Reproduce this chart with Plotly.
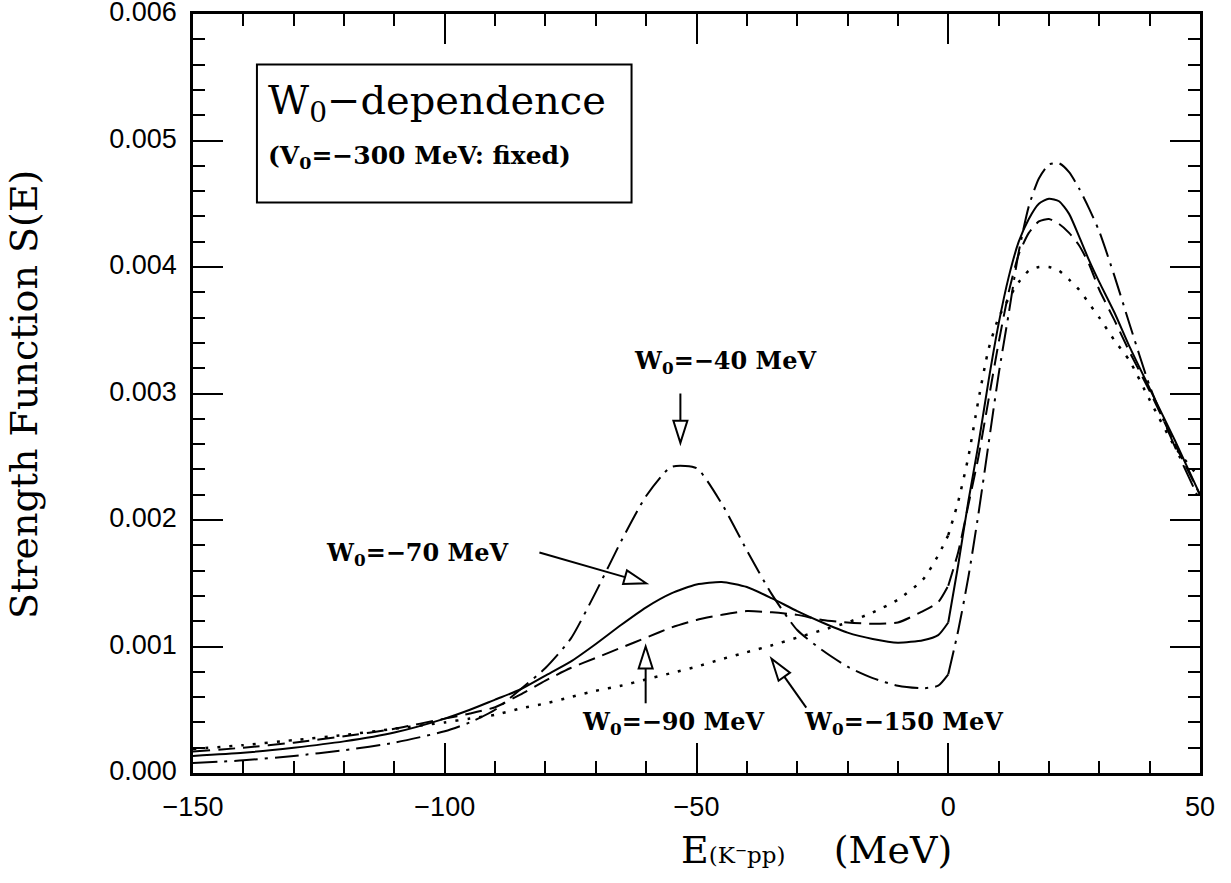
import plotly.graph_objects as go
import numpy as np

# ---- data (S(E) in units of 1e-3) ----
E = [-150, -140, -130, -120, -110, -100, -95, -90, -85, -80, -75, -70, -65, -60, -55,
     -50, -45, -40, -35, -30, -25, -20, -15, -10, -5, -2, 0,
     2, 4, 6, 8, 10, 12, 14, 16, 18, 20, 22, 24, 26, 28, 30, 33, 36, 40, 45, 50]

S_w40 = [0.08, 0.10, 0.135, 0.18, 0.24, 0.33, 0.40, 0.50, 0.66, 0.83, 1.06, 1.43, 1.83, 2.19, 2.42,
         2.41, 2.13, 1.76, 1.41, 1.13, 0.97, 0.84, 0.75, 0.69, 0.67, 0.69, 0.78,
         1.13, 1.55, 2.05, 2.6, 3.15, 3.63, 4.12, 4.48, 4.70, 4.81, 4.82, 4.75, 4.62, 4.46, 4.28, 3.93, 3.55, 3.06, 2.58, 2.15]

S_w70 = [0.135, 0.16, 0.20, 0.25, 0.32, 0.43, 0.50, 0.58, 0.66, 0.77, 0.88, 1.02, 1.17, 1.31, 1.42,
         1.49, 1.51, 1.47, 1.38, 1.28, 1.19, 1.11, 1.06, 1.03, 1.05, 1.09, 1.19,
         1.65, 2.15, 2.6, 3.1, 3.55, 3.92, 4.2, 4.38, 4.5, 4.54, 4.52, 4.42, 4.24, 4.05, 3.88, 3.64, 3.37, 3.04, 2.63, 2.2]

S_w90 = [0.17, 0.20, 0.24, 0.29, 0.35, 0.43, 0.47, 0.52, 0.62, 0.73, 0.83, 0.91, 0.99, 1.07, 1.15,
         1.21, 1.25, 1.28, 1.27, 1.25, 1.21, 1.19, 1.18, 1.19, 1.28, 1.35, 1.48,
         1.75, 2.12, 2.5, 2.95, 3.4, 3.8, 4.1, 4.27, 4.36, 4.38, 4.34, 4.27, 4.17, 4.02, 3.82, 3.58, 3.33, 3.02, 2.6, 2.2]

S_w150 = [0.19, 0.22, 0.26, 0.30, 0.35, 0.40, 0.43, 0.46, 0.51, 0.55, 0.60, 0.65, 0.69, 0.74, 0.79,
          0.84, 0.90, 0.955, 1.01, 1.07, 1.13, 1.19, 1.27, 1.37, 1.53, 1.72, 1.88,
          2.15, 2.5, 2.95, 3.35, 3.6, 3.75, 3.88, 3.97, 4.0, 4.0, 3.97, 3.9, 3.82, 3.71, 3.6, 3.42, 3.26, 2.95, 2.58, 2.33]

series = [
    (S_w40, "24px,7px,3px,7px", 2),
    (S_w70, "solid", 2),
    (S_w90, "17px,8px", 2),
    (S_w150, "3px,9px", 2.5),
]

fig = go.Figure()
i0 = E.index(0)
for vals, dash, lw in series:
    y = [v * 1e-3 for v in vals]
    for xs, ys in [(E[:i0 + 1], y[:i0 + 1]), (E[i0:], y[i0:])]:
        fig.add_trace(go.Scatter(x=xs, y=ys, mode="lines",
                                 line=dict(color="black", width=lw, dash=dash,
                                           shape="spline", smoothing=0.6),
                                 showlegend=False, hoverinfo="skip"))

XR = [-150, 50]
YR = [0, 0.006]
L, R, T, B = 193, 31, 14, 110
W, H = 1231, 883
sx = (W - L - R) / (XR[1] - XR[0])
sy = (H - T - B) / (YR[1] - YR[0])

shapes = []


def arrow(tail, tip, head=22, half=7):
    tx, ty = tail[0] * sx, tail[1] * sy
    px, py = tip[0] * sx, tip[1] * sy
    d = np.array([px - tx, py - ty])
    d = d / np.linalg.norm(d)
    n = np.array([-d[1], d[0]])
    base = np.array([px, py]) - d * head
    c1 = base + n * half
    c2 = base - n * half
    shapes.append(dict(type="line", xref="x", yref="y",
                       x0=tail[0], y0=tail[1], x1=base[0] / sx, y1=base[1] / sy,
                       line=dict(color="black", width=2)))
    path = "M {},{} L {},{} L {},{} Z".format(
        px / sx, py / sy, c1[0] / sx, c1[1] / sy, c2[0] / sx, c2[1] / sy)
    shapes.append(dict(type="path", xref="x", yref="y", path=path,
                       fillcolor="white", line=dict(color="black", width=2)))


arrow((-53.2, 3.0e-3), (-53.2, 2.61e-3))
arrow((-81.2, 1.743e-3), (-60.0, 1.50e-3))
arrow((-60.1, 0.551e-3), (-60.1, 1.0e-3))
arrow((-28.2, 0.517e-3), (-35.1, 0.903e-3))

# legend box
shapes.append(dict(type="rect", xref="x", yref="y", x0=-137.3, x1=-62.9,
                   y0=4.51e-3, y1=5.6e-3, line=dict(color="black", width=2),
                   fillcolor="rgba(0,0,0,0)"))

serif = "DejaVu Serif"
annotations = [
    dict(x=-135.5, y=5.3e-3, xref="x", yref="y", xanchor="left", yanchor="middle",
         text="W<sub>0</sub>\u2212dependence", showarrow=False,
         font=dict(family=serif, size=40, color="black")),
    dict(x=-135.5, y=4.87e-3, xref="x", yref="y", xanchor="left", yanchor="middle",
         text="<b>(V<sub>0</sub>=\u2212300 MeV: fixed)</b>", showarrow=False,
         font=dict(family=serif, size=25, color="black")),
    dict(x=-44.4, y=3.25e-3, xref="x", yref="y", text="<b>W<sub>0</sub>=\u221240 MeV</b>",
         showarrow=False, font=dict(family=serif, size=24, color="black")),
    dict(x=-105.6, y=1.73e-3, xref="x", yref="y", text="<b>W<sub>0</sub>=\u221270 MeV</b>",
         showarrow=False, font=dict(family=serif, size=24, color="black")),
    dict(x=-54.6, y=0.394e-3, xref="x", yref="y", text="<b>W<sub>0</sub>=\u221290 MeV</b>",
         showarrow=False, font=dict(family=serif, size=24, color="black")),
    dict(x=-8.8, y=0.394e-3, xref="x", yref="y", text="<b>W<sub>0</sub>=\u2212150 MeV</b>",
         showarrow=False, font=dict(family=serif, size=24, color="black")),
    dict(x=(24 - L) / (W - L - R), y=(H - B - 395) / (H - T - B), xref="paper", yref="paper",
         xanchor="center", yanchor="middle", textangle=-90,
         text="Strength Function S(E)", showarrow=False,
         font=dict(family=serif, size=38, color="black")),
    dict(x=(816 - L) / (W - L - R), y=-(850 - (H - B)) / (H - T - B), xref="paper", yref="paper",
         xanchor="center", yanchor="middle",
         text="E<span style=\"font-size:23px\">(K\u207bpp)</span>    (MeV)", showarrow=False,
         font=dict(family=serif, size=38, color="black")),
]

axis_common = dict(showline=True, linecolor="black", linewidth=2.5, mirror="ticks",
                   ticks="inside", ticklen=30, tickwidth=2, tickcolor="black",
                   showgrid=False, zeroline=False, ticklabeloverflow="allow",
                   automargin=False,
                   tickfont=dict(family="Liberation Sans", size=27, color="black"))

fig.update_layout(
    width=W, height=H,
    margin=dict(l=L, r=R, t=T, b=B, autoexpand=False),
    plot_bgcolor="white", paper_bgcolor="white",
    xaxis=dict(range=XR, dtick=50, tick0=-150, ticklabelstandoff=8,
               minor=dict(dtick=10, ticks="inside", ticklen=12, tickwidth=2, tickcolor="black"),
               **axis_common),
    yaxis=dict(range=[YR[0], YR[1] * 1.000001], dtick=0.001, tick0=0, tickformat=".3f",
               ticklabelstandoff=8, ticklabelshift=-2,
               minor=dict(dtick=0.0002, ticks="inside", ticklen=12, tickwidth=2, tickcolor="black"),
               **axis_common),
    shapes=shapes,
    annotations=annotations,
)

fig.write_html("out.html")
